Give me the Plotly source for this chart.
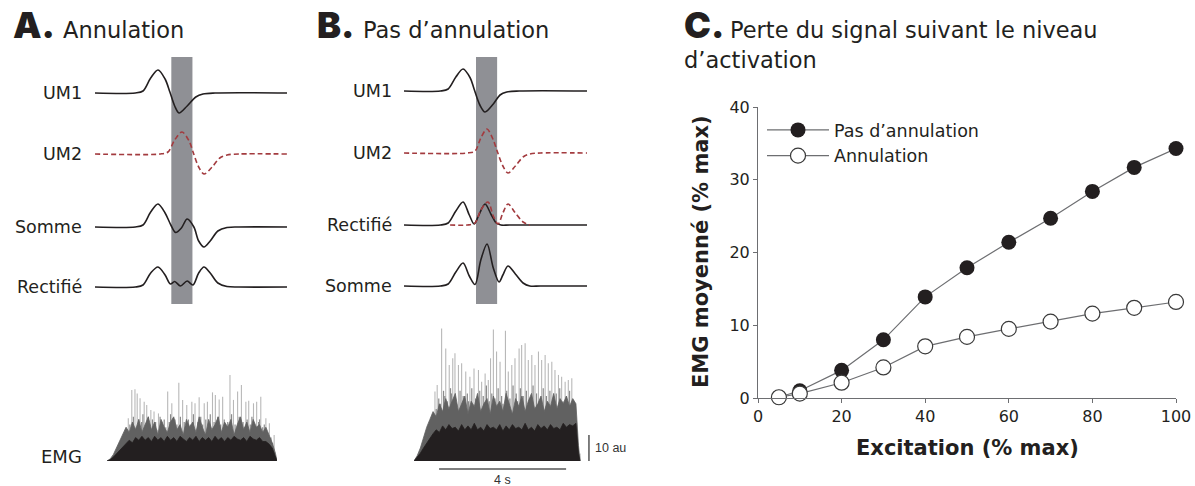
import plotly.graph_objects as go

W, H = 1195, 486
def px(x): return x / W
def py(y): return 1 - y / H

INK = '#231f20'
RED = '#a33b3f'
BAR = '#8f9095'
FONT = 'DejaVu Sans'
HEAVY = 'Inter'

# ---------------- Panel C data ----------------
excitation = [5, 10, 20, 30, 40, 50, 60, 70, 80, 90, 100]
emg_pas_annulation = [0.1, 1.0, 3.8, 8.0, 13.9, 17.9, 21.4, 24.7, 28.4, 31.7, 34.3]
emg_annulation = [0.1, 0.6, 2.1, 4.2, 7.1, 8.4, 9.5, 10.5, 11.6, 12.4, 13.2]
x_ticks = [0, 20, 40, 60, 80, 100]
y_ticks = [0, 10, 20, 30, 40]

# ---------------- Panel A waveforms (time in ms, amplitude in a.u.) ----------------
a_um1_t = [0, 4.2, 5.0, 5.8, 6.56, 7.3, 7.8, 8.3, 8.75, 9.6, 10.5, 11.25, 12.5, 20]
a_um1_v = [0, 0, 0.2, 1.5, 2.3, 1.4, 0.1, -1.3, -2.0, -1.3, -0.4, -0.1, 0, 0]
a_um2_t = [0, 6.8, 7.6, 8.3, 9.06, 9.8, 10.25, 10.8, 11.35, 12.2, 13.0, 13.75, 15.0, 20]
a_um2_v = [0, 0, 0.2, 1.4, 2.2, 1.3, 0.1, -1.3, -2.0, -1.3, -0.4, -0.1, 0, 0]
a_sum_t = [0, 4.2, 5.0, 5.8, 6.56, 7.3, 7.9, 8.4, 9.0, 9.6, 10.3, 10.8, 11.35, 12.0, 12.8, 13.75, 15.0, 20]
a_sum_v = [0, 0, 0.2, 1.5, 2.3, 1.4, 0.2, -0.55, -0.1, 0.8, 0.0, -1.4, -2.0, -1.4, -0.4, -0.05, 0, 0]
a_rect_t = [0, 4.2, 5.0, 5.8, 6.56, 7.3, 7.85, 8.3, 8.9, 9.6, 10.2, 10.8, 11.35, 12.0, 12.8, 13.75, 15.0, 20]
a_rect_v = [0, 0, 0.2, 1.4, 2.0, 1.2, 0.3, 0.55, 0.1, 0.6, 0.2, 1.4, 2.0, 1.4, 0.4, 0.05, 0, 0]
a_window = [7.95, 10.15]

# ---------------- Panel B waveforms ----------------
b_um1_t = [0, 3.8, 4.6, 5.4, 6.15, 6.9, 7.3, 7.9, 8.44, 9.3, 10.0, 10.7, 12.0, 19.06]
b_um1_v = [0, 0, 0.2, 1.4, 2.2, 1.3, 0.2, -1.4, -2.1, -1.3, -0.4, -0.1, 0, 0]
b_um2_t = [0, 6.6, 7.4, 8.0, 8.65, 9.3, 9.7, 10.3, 10.83, 11.6, 12.4, 13.1, 14.2, 19.06]
b_um2_v = [0, 0, 0.2, 1.5, 2.4, 1.3, 0.2, -1.3, -2.0, -1.3, -0.4, -0.1, 0, 0]
b_rect1_t = [0, 3.8, 4.6, 5.4, 6.15, 6.8, 7.3, 7.8, 8.44, 9.1, 9.6, 10.1, 11.0, 19.06]
b_rect1_v = [0, 0, 0.2, 1.4, 2.3, 1.0, 0.1, 1.0, 2.1, 1.0, 0.2, 0.0, 0, 0]
b_rect2_t = [4.8, 6.6, 7.4, 8.0, 8.75, 9.3, 9.8, 10.3, 10.83, 11.6, 12.4, 13.1]
b_rect2_v = [0, 0, 0.2, 1.5, 2.3, 0.9, 0.1, 1.2, 2.1, 1.2, 0.3, 0]
b_sum_t = [0, 3.8, 4.6, 5.4, 6.15, 6.8, 7.4, 8.0, 8.65, 9.3, 9.9, 10.3, 10.83, 11.6, 12.4, 13.1, 14.2, 19.06]
b_sum_v = [0, 0, 0.2, 1.4, 2.3, 1.0, 0.15, 2.6, 4.2, 1.8, 0.4, 1.1, 2.0, 1.2, 0.3, 0.0, 0, 0]
b_window = [7.5, 9.7]

# ---------------- EMG bursts (time in s, amplitude in au) ----------------
emg_a_tall_t = [0.67, 0.78, 0.88, 0.95, 1.04, 1.17, 1.25, 1.38, 1.48, 1.62, 1.74, 1.91, 2.04, 2.26, 2.38, 2.51,
                2.67, 2.77, 2.90, 3.06, 3.16, 3.32, 3.41, 3.53, 3.64, 3.87, 3.98, 4.11, 4.23, 4.37, 4.46, 4.61,
                4.71, 4.84, 5.00, 5.11, 5.26]
emg_a_tall_h = [16.4, 27.3, 27.6, 26.0, 24.1, 22.8, 21.5, 19.6, 19.0, 18.3, 15.1, 26.7, 22.2, 30.1, 23.5, 21.5,
                22.8, 22.2, 24.5, 22.2, 22.8, 26.4, 25.4, 23.7, 24.7, 33.1, 23.5, 26.7, 29.2, 22.8, 23.2, 22.2,
                22.8, 24.7, 16.4, 14.5, 10.0]
emg_a_mid_t = [0.55, 0.62, 0.72, 0.83, 0.92, 1.00, 1.09, 1.13, 1.21, 1.30, 1.34, 1.43, 1.53, 1.57, 1.67, 1.70,
               1.80, 1.85, 1.96, 2.00, 2.09, 2.14, 2.20, 2.31, 2.43, 2.47, 2.56, 2.62, 2.72, 2.83, 2.86, 2.95,
               3.01, 3.11, 3.20, 3.25, 3.37, 3.46, 3.49, 3.58, 3.69, 3.73, 3.80, 3.92, 4.03, 4.07, 4.16, 4.28,
               4.32, 4.41, 4.51, 4.56, 4.66, 4.77, 4.80, 4.90, 4.95, 5.05, 5.16, 5.21]
emg_a_mid_h = [9, 12, 14, 17, 13, 16, 15, 18, 14, 17, 13, 16, 15, 12, 17, 14,
               16, 13, 15, 18, 12, 16, 14, 17, 15, 13, 16, 14, 18, 12, 15, 17,
               14, 16, 13, 18, 15, 12, 17, 14, 16, 13, 15, 18, 14, 12, 17, 15,
               13, 16, 14, 17, 12, 15, 16, 13, 14, 11, 9, 7]
emg_a_env_t = [0.0, 0.1, 0.2, 0.3, 0.4, 0.5, 0.6, 0.7, 0.8, 0.9, 1.0, 1.1, 1.2, 1.3, 1.4, 1.5, 1.6, 1.7, 1.8,
               1.9, 2.0, 2.1, 2.2, 2.3, 2.4, 2.5, 2.6, 2.7, 2.8, 2.9, 3.0, 3.1, 3.2, 3.3, 3.4, 3.5, 3.6, 3.7,
               3.8, 3.9, 4.0, 4.1, 4.2, 4.3, 4.4, 4.5, 4.6, 4.7, 4.8, 4.9, 5.0, 5.1, 5.2, 5.3, 5.35]
emg_a_grey_h = [0, 0.8, 2.5, 5, 8, 10, 13, 11, 15, 12,
                16, 11, 14, 17, 12, 15, 10, 16, 13, 11,
                15, 17, 12, 14, 10, 16, 13, 15, 11, 17,
                13, 10, 16, 12, 14, 17, 11, 15, 13, 16,
                10, 14, 17, 12, 15, 11, 16, 13, 14, 11,
                13, 10, 7, 3, 0]
emg_a_env_h = [0, 0.5, 1.5, 2.8, 4.5, 5.5, 7, 8, 7, 9, 8, 9.5, 8, 9, 7.5, 9.5, 8, 9, 7.5,
               9.5, 8, 9, 7.5, 9.5, 8.5, 7.5, 9, 8, 9.5, 7.5, 9, 8, 9, 7.5, 9.5, 8, 9, 7.5,
               9, 8, 9.5, 8.5, 8, 9, 7.5, 9.5, 8.5, 8, 9, 7.5, 7.5, 6.5, 5, 1.5, 0]

emg_b_tall_t = [0.66, 0.73, 0.87, 1.00, 1.11, 1.22, 1.29, 1.40, 1.50, 1.63, 1.76, 1.89, 2.03, 2.13, 2.24, 2.34,
                2.41, 2.50, 2.60, 2.71, 2.88, 2.97, 3.08, 3.18, 3.31, 3.39, 3.50, 3.60, 3.71, 3.81, 3.92, 4.02,
                4.13, 4.23, 4.34, 4.44, 4.55, 4.65, 4.76, 4.86, 4.97, 5.10, 5.23]
emg_b_tall_h = [26.7, 29.2, 51.0, 43.3, 36.9, 39.5, 41.4, 36.9, 37.6, 34.4, 32.4, 35.6, 35.0, 30.5, 33.7, 31.2,
                39.5, 50.6, 42.1, 38.2, 50.1, 34.4, 36.9, 39.5, 43.3, 44.6, 45.3, 38.8, 40.8, 36.9, 42.1, 38.8,
                40.8, 37.6, 38.2, 35.0, 33.1, 32.4, 30.5, 31.2, 31.8, 17.1, 2.9]
emg_b_mid_t = [0.45, 0.52, 0.60, 0.70, 0.78, 0.83, 0.93, 0.97, 1.05, 1.15, 1.18, 1.26, 1.34, 1.45, 1.55, 1.58,
               1.68, 1.72, 1.82, 1.94, 1.98, 2.07, 2.18, 2.28, 2.37, 2.45, 2.55, 2.65, 2.76, 2.80, 2.92, 3.02,
               3.12, 3.22, 3.26, 3.35, 3.44, 3.54, 3.65, 3.75, 3.86, 3.96, 4.07, 4.17, 4.28, 4.38, 4.48, 4.59,
               4.69, 4.80, 4.90, 5.01, 5.06, 5.14]
emg_b_mid_h = [8, 12, 16, 20, 24, 22, 27, 25, 23, 28, 26, 24, 22, 27, 25, 21,
               26, 23, 28, 24, 22, 27, 25, 29, 23, 26, 24, 28, 25, 22, 27, 24,
               29, 26, 23, 28, 25, 27, 24, 29, 26, 23, 28, 25, 27, 24, 26, 28,
               23, 25, 27, 22, 20, 12]
emg_b_env_t = [0.0, 0.1, 0.2, 0.3, 0.4, 0.5, 0.6, 0.7, 0.8, 0.9, 1.0, 1.1, 1.2, 1.3, 1.4, 1.5, 1.6, 1.7, 1.8,
               1.9, 2.0, 2.1, 2.2, 2.3, 2.4, 2.5, 2.6, 2.7, 2.8, 2.9, 3.0, 3.1, 3.2, 3.3, 3.4, 3.5, 3.6, 3.7,
               3.8, 3.9, 4.0, 4.1, 4.2, 4.3, 4.4, 4.5, 4.6, 4.7, 4.8, 4.9, 5.0, 5.1, 5.18, 5.23]
emg_b_grey_h = [0, 2, 5, 9, 13, 16, 19, 17, 22, 19,
                24, 20, 23, 26, 19, 22, 25, 18, 23, 21,
                26, 19, 22, 24, 18, 25, 21, 23, 19, 26,
                22, 18, 24, 21, 25, 19, 23, 26, 20, 22,
                25, 19, 23, 21, 26, 20, 24, 22, 25, 21,
                24, 22, 6, 0]
emg_b_env_h = [0, 1.5, 3, 5, 7, 9, 10.5, 12, 11, 13.5, 12, 14, 12.5, 13, 11.5, 14, 12, 13.5, 12,
               14.5, 12, 13, 11.5, 14, 12.5, 13, 12, 14, 11.5, 13.5, 12, 14, 12.5, 13, 12, 14.5, 12, 13,
               11.5, 14, 12.5, 13.5, 12, 14, 12.5, 13, 12, 14.5, 13, 14, 13.5, 14.5, 3, 0]

scalebar_amp = 10   # au
scalebar_dur = 4    # s

# ---------------- layout constants (positions) ----------------
rows_a = {'UM1': -3.8, 'UM2': -9.9, 'Somme': -17.2, 'Rectifié': -23.2}
rows_b = {'UM1': -3.6, 'UM2': -9.8, 'Rectifié': -17.0, 'Somme': -23.1}

fig = go.Figure()

def wave(t, v, off, xa, ya, color=INK, dash='solid'):
    return go.Scatter(x=t, y=[off + a for a in v], mode='lines',
                      line=dict(color=color, width=1.6, dash=dash, shape='spline', smoothing=0.9),
                      xaxis=xa, yaxis=ya, showlegend=False, hoverinfo='skip')

DASH = '5px,3px'
fig.add_trace(wave(a_um1_t, a_um1_v, rows_a['UM1'], 'x2', 'y2'))
fig.add_trace(wave(a_um2_t, a_um2_v, rows_a['UM2'], 'x2', 'y2', RED, DASH))
fig.add_trace(wave(a_sum_t, a_sum_v, rows_a['Somme'], 'x2', 'y2'))
fig.add_trace(wave(a_rect_t, a_rect_v, rows_a['Rectifié'], 'x2', 'y2'))

fig.add_trace(wave(b_um1_t, b_um1_v, rows_b['UM1'], 'x3', 'y3'))
fig.add_trace(wave(b_um2_t, b_um2_v, rows_b['UM2'], 'x3', 'y3', RED, DASH))
fig.add_trace(wave(b_rect1_t, b_rect1_v, rows_b['Rectifié'], 'x3', 'y3'))
fig.add_trace(wave(b_rect2_t, b_rect2_v, rows_b['Rectifié'], 'x3', 'y3', RED, DASH))
fig.add_trace(wave(b_sum_t, b_sum_v, rows_b['Somme'], 'x3', 'y3'))

def spikes(t, h, xa, ya, color, width):
    xs, ys = [], []
    for ti, hi in zip(t, h):
        xs += [ti, ti, None]
        ys += [0, hi, None]
    return go.Scatter(x=xs, y=ys, mode='lines', line=dict(color=color, width=width),
                      xaxis=xa, yaxis=ya, showlegend=False, hoverinfo='skip')

def envelope(t, h, xa, ya, color):
    return go.Scatter(x=t, y=h, mode='lines', fill='tozeroy', fillcolor=color,
                      line=dict(color=color, width=0.8), xaxis=xa, yaxis=ya,
                      showlegend=False, hoverinfo='skip')

fig.add_trace(spikes(emg_a_tall_t, emg_a_tall_h, 'x4', 'y4', '#b8b8b8', 1.1))
fig.add_trace(spikes(emg_a_mid_t, emg_a_mid_h, 'x4', 'y4', '#8a8a8a', 1.2))
fig.add_trace(envelope(emg_a_env_t, emg_a_grey_h, 'x4', 'y4', '#616161'))
fig.add_trace(envelope(emg_a_env_t, emg_a_env_h, 'x4', 'y4', INK))

fig.add_trace(spikes(emg_b_tall_t, emg_b_tall_h, 'x5', 'y5', '#b8b8b8', 1.1))
fig.add_trace(spikes(emg_b_mid_t, emg_b_mid_h, 'x5', 'y5', '#8a8a8a', 1.2))
fig.add_trace(envelope(emg_b_env_t, emg_b_grey_h, 'x5', 'y5', '#616161'))
fig.add_trace(envelope(emg_b_env_t, emg_b_env_h, 'x5', 'y5', INK))

# scale bars (B)
bar_t0 = 0.79
bar_x = 5.51
bar_y = -3.1
fig.add_trace(go.Scatter(x=[bar_x, bar_x], y=[0, scalebar_amp], mode='lines',
                         line=dict(color='#555555', width=1.5), xaxis='x5', yaxis='y5',
                         showlegend=False, hoverinfo='skip', cliponaxis=False))
fig.add_trace(go.Scatter(x=[bar_t0, bar_t0 + scalebar_dur], y=[bar_y, bar_y], mode='lines',
                         line=dict(color='#555555', width=1.5), xaxis='x5', yaxis='y5',
                         showlegend=False, hoverinfo='skip', cliponaxis=False))

# Panel C
fig.add_trace(go.Scatter(x=excitation, y=emg_pas_annulation, mode='lines+markers',
                         name='Pas d’annulation',
                         line=dict(color='#6d6e71', width=1.2),
                         marker=dict(size=15, color=INK, line=dict(width=0)),
                         cliponaxis=False, xaxis='x', yaxis='y'))
fig.add_trace(go.Scatter(x=excitation, y=emg_annulation, mode='lines+markers',
                         name='Annulation',
                         line=dict(color='#6d6e71', width=1.2),
                         marker=dict(size=15, color='white', line=dict(width=1.2, color='#3a3a3a')),
                         cliponaxis=False, xaxis='x', yaxis='y'))

hidden = dict(visible=False, showgrid=False, zeroline=False, fixedrange=True, automargin=False)

shapes = [
    dict(type='rect', xref='x2', yref='y2', x0=a_window[0], x1=a_window[1], y0=-24.9, y1=-0.2,
         fillcolor=BAR, line=dict(width=0), layer='below'),
    dict(type='rect', xref='x3', yref='y3', x0=b_window[0], x1=b_window[1], y0=-24.9, y1=-0.2,
         fillcolor=BAR, line=dict(width=0), layer='below'),
]

ann = []
def label(text, x, y, xref='paper', yref='paper', size=17.5, xanchor='right', yanchor='middle',
          weight='normal', family=FONT, color=INK, **kw):
    ann.append(dict(text=text, x=x, y=y, xref=xref, yref=yref, showarrow=False,
                    xanchor=xanchor, yanchor=yanchor,
                    font=dict(size=size, color=color, family=family, weight=weight), **kw))

for name, off in rows_a.items():
    label(name, px(84), off, yref='y2')
for name, off in rows_b.items():
    label(name, px(394), off, yref='y3')
label('EMG', px(84), py(456), size=18)

label('A.', px(11), py(25), size=36, xanchor='left', weight=900, family=HEAVY)
label('Annulation', px(61), py(30), size=22.5, xanchor='left')
label('B.', px(315), py(25), size=36, xanchor='left', weight=900, family=HEAVY)
label('Pas d’annulation', px(361), py(30), size=22.5, xanchor='left')
label('C.', px(682), py(25), size=36, xanchor='left', weight=900, family=HEAVY)
label('Perte du signal suivant le niveau', px(728), py(30), size=22.5, xanchor='left')
label('d’activation', px(682), py(60), size=22.5, xanchor='left')

label('Excitation (% max)', px(967), py(448), size=21, xanchor='center', weight='bold')
label('EMG moyenné (% max)', px(701), py(252), size=21, xanchor='center', textangle=-90, weight='bold')

label('10 au', 5.63, 5.0, xref='x5', yref='y5', size=12.5, xanchor='left',
      family='Liberation Sans', color='#333333')
label('4 s', bar_t0 + scalebar_dur / 2, -7.4, xref='x5', yref='y5', size=12.5, xanchor='center',
      family='Liberation Sans', color='#333333')

axis_c = dict(showline=True, linecolor='#6d6e71', linewidth=1, ticks='outside', ticklen=4,
              tickcolor='#6d6e71', tickwidth=1, showgrid=False, zeroline=False, automargin=False,
              tickfont=dict(size=16, color=INK, family=FONT), fixedrange=True)

fig.update_layout(
    width=W, height=H, autosize=False,
    margin=dict(l=0, r=0, t=0, b=0, pad=0, autoexpand=False),
    paper_bgcolor='white', plot_bgcolor='rgba(0,0,0,0)',
    font=dict(family=FONT, color=INK),
    showlegend=True,
    legend=dict(x=px(762), y=py(112), xanchor='left', yanchor='top', bgcolor='rgba(0,0,0,0)',
                font=dict(size=17.5, color=INK, family=FONT), itemwidth=62, tracegroupgap=0),
    xaxis=dict(domain=[px(758), px(1176)], range=[0, 100], tickvals=x_ticks, anchor='y', **axis_c),
    yaxis=dict(domain=[py(398), py(107)], range=[0, 40], tickvals=y_ticks, anchor='x', **axis_c),
    xaxis2=dict(domain=[px(95), px(287)], range=[0, 20], anchor='y2', **hidden),
    yaxis2=dict(domain=[py(305), py(55)], range=[-25, 0], anchor='x2', **hidden),
    xaxis3=dict(domain=[px(404), px(587)], range=[0, 19.06], anchor='y3', **hidden),
    yaxis3=dict(domain=[py(305), py(55)], range=[-25, 0], anchor='x3', **hidden),
    xaxis4=dict(domain=[px(107), px(277)], range=[0, 5.35], anchor='y4', **hidden),
    yaxis4=dict(domain=[py(461), py(360)], range=[0, 38.85], anchor='x4', **hidden),
    xaxis5=dict(domain=[px(414), px(600)], range=[0, 5.858], anchor='y5', **hidden),
    yaxis5=dict(domain=[py(482), py(310)], range=[-8.08, 58.08], anchor='x5', **hidden),
    shapes=shapes,
    annotations=ann,
)

# remove the browser's default 8px body margin so the figure sits at the window's top-left corner
post = ("var gd=document.getElementById('{plot_id}');"
        "document.documentElement.style.margin='0';document.documentElement.style.overflow='hidden';"
        "document.body.style.margin='0';document.body.style.padding='0';document.body.style.overflow='hidden';"
        "if(gd){gd.style.position='fixed';gd.style.left='0px';gd.style.top='0px';}")

fig.write_html('out.html', post_script=post, config={'displayModeBar': False})
